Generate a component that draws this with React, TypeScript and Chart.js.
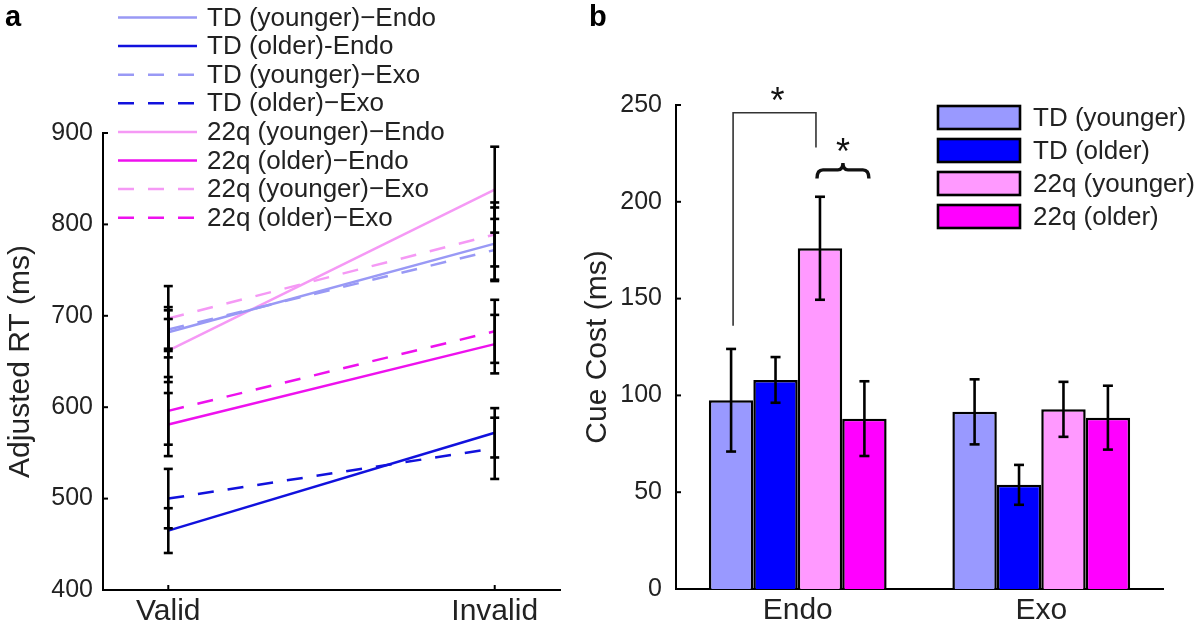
import React, { useEffect, useRef } from 'react';
import { Chart, registerables } from 'chart.js';

Chart.register(...registerables);

const FONT = '"Liberation Sans", Arial, Helvetica, sans-serif';
const TEXT = '#222222';

// ---------- Panel a : adjusted RT ----------
const CONDITIONS = ['Valid', 'Invalid'];
const CONDITION_X = [1, 2];
const RT_TICKS = [400, 500, 600, 700, 800, 900];

const LINE_LABELS = [
  'TD (younger)\u2212Endo',
  'TD (older)-Endo',
  'TD (younger)\u2212Exo',
  'TD (older)\u2212Exo',
  '22q (younger)\u2212Endo',
  '22q (older)\u2212Endo',
  '22q (younger)\u2212Exo',
  '22q (older)\u2212Exo',
];
const LINE_COLORS = ['#9999f5', '#1111dd', '#9999f5', '#1111dd', '#f599f5', '#ee11ee', '#f599f5', '#ee11ee'];
const LINE_DASHED = [false, false, true, true, false, false, true, true];

const TD_YOUNGER_ENDO = [682, 779];
const TD_OLDER_ENDO = [465, 572];
const TD_YOUNGER_EXO = [685, 772];
const TD_OLDER_EXO = [500, 555];
const Q22_YOUNGER_ENDO = [662, 838];
const Q22_OLDER_ENDO = [581, 669];
const Q22_YOUNGER_EXO = [697, 789];
const Q22_OLDER_EXO = [596, 683];

const TD_YOUNGER_ENDO_ERR = [27.5, 39.5];
const TD_OLDER_ENDO_ERR = [24.5, 27];
const TD_YOUNGER_EXO_ERR = [21, 34];
const TD_OLDER_EXO_ERR = [32.5, 33.5];
const Q22_YOUNGER_ENDO_ERR = [34.5, 47];
const Q22_OLDER_ENDO_ERR = [34.5, 32];
const Q22_YOUNGER_EXO_ERR = [35.5, 35];
const Q22_OLDER_EXO_ERR = [37, 34.5];

const LINE_VALUES = [
  TD_YOUNGER_ENDO, TD_OLDER_ENDO, TD_YOUNGER_EXO, TD_OLDER_EXO,
  Q22_YOUNGER_ENDO, Q22_OLDER_ENDO, Q22_YOUNGER_EXO, Q22_OLDER_EXO,
];
const LINE_ERRORS = [
  TD_YOUNGER_ENDO_ERR, TD_OLDER_ENDO_ERR, TD_YOUNGER_EXO_ERR, TD_OLDER_EXO_ERR,
  Q22_YOUNGER_ENDO_ERR, Q22_OLDER_ENDO_ERR, Q22_YOUNGER_EXO_ERR, Q22_OLDER_EXO_ERR,
];

// ---------- Panel b : cue cost ----------
const CUE_TYPES = ['Endo', 'Exo'];
const GROUP_LABELS = ['TD (younger)', 'TD (older)', '22q (younger)', '22q (older)'];
const GROUP_COLORS = ['#9999ff', '#0000ff', '#ff99ff', '#ff00ff'];
const COST_TICKS = [0, 50, 100, 150, 200, 250];

const TD_YOUNGER_COST = [97.5, 91.5];
const TD_OLDER_COST = [108, 53.8];
const Q22_YOUNGER_COST = [176, 92.8];
const Q22_OLDER_COST = [88, 88.5];

const TD_YOUNGER_COST_ERR = [26.5, 16.8];
const TD_OLDER_COST_ERR = [11.8, 10.3];
const Q22_YOUNGER_COST_ERR = [26.6, 14.2];
const Q22_OLDER_COST_ERR = [19.3, 16.5];

const COST_VALUES = [TD_YOUNGER_COST, TD_OLDER_COST, Q22_YOUNGER_COST, Q22_OLDER_COST];
const COST_ERRORS = [TD_YOUNGER_COST_ERR, TD_OLDER_COST_ERR, Q22_YOUNGER_COST_ERR, Q22_OLDER_COST_ERR];

// significance annotation levels (in ms)
const BRACKET_LEVELS = { leftStart: 136, top: 246, rightEnd: 228 };
const BRACE_LEVELS = { tips: 212, bar: 216.5, peak: 220 };

function drawLine(ctx: CanvasRenderingContext2D, x1: number, y1: number, x2: number, y2: number) {
  ctx.beginPath();
  ctx.moveTo(x1, y1);
  ctx.lineTo(x2, y2);
  ctx.stroke();
}

const leftPlugin = {
  id: 'leftDecor',
  afterDatasetsDraw(chart: any) {
    const { ctx } = chart;
    const xs = chart.scales.x;
    const ys = chart.scales.y;
    ctx.save();
    ctx.strokeStyle = '#000';
    ctx.lineWidth = 2.6;
    LINE_VALUES.forEach((vals, i) => {
      vals.forEach((v, j) => {
        const e = LINE_ERRORS[i][j];
        const x = xs.getPixelForValue(CONDITION_X[j]);
        const yt = ys.getPixelForValue(v + e);
        const yb = ys.getPixelForValue(v - e);
        drawLine(ctx, x, yt, x, yb);
        drawLine(ctx, x - 4.5, yt, x + 4.5, yt);
        drawLine(ctx, x - 4.5, yb, x + 4.5, yb);
      });
    });
    ctx.restore();
  },
  afterDraw(chart: any) {
    const { ctx, chartArea } = chart;
    const xs = chart.scales.x;
    const ys = chart.scales.y;
    ctx.save();
    ctx.strokeStyle = '#000';
    ctx.lineWidth = 2;
    RT_TICKS.forEach((t) => {
      const y = ys.getPixelForValue(t);
      drawLine(ctx, chartArea.left, y, chartArea.left + 5, y);
    });
    CONDITION_X.forEach((t) => {
      const x = xs.getPixelForValue(t);
      drawLine(ctx, x, chartArea.bottom, x, chartArea.bottom - 5);
    });
    // legend
    ctx.font = `26px ${FONT}`;
    ctx.textBaseline = 'middle';
    ctx.textAlign = 'left';
    LINE_LABELS.forEach((lab, i) => {
      const y = 17.5 + i * 28.6;
      ctx.strokeStyle = LINE_COLORS[i];
      ctx.lineWidth = 2.5;
      ctx.setLineDash(LINE_DASHED[i] ? [16, 14] : []);
      drawLine(ctx, 118, y, 197, y);
      ctx.setLineDash([]);
      ctx.fillStyle = TEXT;
      ctx.fillText(lab, 207, y + 1);
    });
    // panel label
    ctx.font = `bold 29px ${FONT}`;
    ctx.textBaseline = 'alphabetic';
    ctx.fillStyle = '#000';
    ctx.fillText('a', 5, 26);
    ctx.restore();
  },
};

const rightPlugin = {
  id: 'rightDecor',
  afterDatasetsDraw(chart: any) {
    const { ctx } = chart;
    const ys = chart.scales.y;
    ctx.save();
    ctx.strokeStyle = '#000';
    ctx.lineWidth = 2.6;
    COST_VALUES.forEach((vals, i) => {
      const meta = chart.getDatasetMeta(i);
      vals.forEach((v, j) => {
        const e = COST_ERRORS[i][j];
        const x = meta.data[j].x;
        const yt = ys.getPixelForValue(v + e);
        const yb = ys.getPixelForValue(v - e);
        drawLine(ctx, x, yt, x, yb);
        drawLine(ctx, x - 5, yt, x + 5, yt);
        drawLine(ctx, x - 5, yb, x + 5, yb);
      });
    });
    ctx.restore();
  },
  afterDraw(chart: any) {
    const { ctx, chartArea } = chart;
    const ys = chart.scales.y;
    ctx.save();
    ctx.strokeStyle = '#000';
    ctx.lineWidth = 2;
    COST_TICKS.forEach((t) => {
      const y = ys.getPixelForValue(t);
      drawLine(ctx, chartArea.left, y, chartArea.left + 5, y);
    });

    // significance bracket between TD (younger) and 22q (younger), Endo
    const b0 = chart.getDatasetMeta(0).data[0].x;
    const b2 = chart.getDatasetMeta(2).data[0].x;
    const b3 = chart.getDatasetMeta(3).data[0].x;
    ctx.strokeStyle = '#333';
    ctx.lineWidth = 1.6;
    ctx.beginPath();
    ctx.moveTo(b0 + 2, ys.getPixelForValue(BRACKET_LEVELS.leftStart));
    ctx.lineTo(b0 + 2, ys.getPixelForValue(BRACKET_LEVELS.top));
    ctx.lineTo(b2 - 4, ys.getPixelForValue(BRACKET_LEVELS.top));
    ctx.lineTo(b2 - 4, ys.getPixelForValue(BRACKET_LEVELS.rightEnd));
    ctx.stroke();

    // curly brace over 22q (younger) & 22q (older)
    const xl = b2 - 3;
    const xr = b3 + 4.5;
    const xm = (xl + xr) / 2;
    const yTip = ys.getPixelForValue(BRACE_LEVELS.tips);
    const yBar = ys.getPixelForValue(BRACE_LEVELS.bar);
    const yPeak = ys.getPixelForValue(BRACE_LEVELS.peak);
    ctx.strokeStyle = '#111';
    ctx.lineWidth = 3.4;
    ctx.beginPath();
    ctx.moveTo(xl, yTip);
    ctx.quadraticCurveTo(xl, yBar, xl + 6, yBar);
    ctx.lineTo(xm - 5, yBar);
    ctx.quadraticCurveTo(xm, yBar, xm, yPeak);
    ctx.quadraticCurveTo(xm, yBar, xm + 5, yBar);
    ctx.lineTo(xr - 6, yBar);
    ctx.quadraticCurveTo(xr, yBar, xr, yTip);
    ctx.stroke();

    ctx.fillStyle = '#111';
    ctx.font = `36px ${FONT}`;
    ctx.textAlign = 'center';
    ctx.textBaseline = 'middle';
    ctx.fillText('*', (b0 + b2) / 2 + 2, ys.getPixelForValue(BRACKET_LEVELS.top) - 10);
    ctx.fillText('*', xm, yPeak - 9);

    // legend
    ctx.textAlign = 'left';
    ctx.font = `26px ${FONT}`;
    GROUP_LABELS.forEach((lab, i) => {
      const yc = 117.5 + i * 33;
      ctx.fillStyle = GROUP_COLORS[i];
      ctx.fillRect(368, yc - 11.5, 82, 23);
      ctx.strokeStyle = '#000';
      ctx.lineWidth = 2.6;
      ctx.strokeRect(368, yc - 11.5, 82, 23);
      ctx.fillStyle = TEXT;
      ctx.fillText(lab, 463, yc + 1);
    });

    ctx.font = `bold 29px ${FONT}`;
    ctx.textBaseline = 'alphabetic';
    ctx.fillStyle = '#000';
    ctx.fillText('b', 19, 26);
    ctx.restore();
  },
};

export default function App() {
  const leftRef = useRef<HTMLCanvasElement>(null);
  const rightRef = useRef<HTMLCanvasElement>(null);

  useEffect(() => {
    const axisBorder = { display: true, color: '#000', width: 2 };
    const noGrid = { display: false, drawTicks: false };

    const left = new Chart(leftRef.current as HTMLCanvasElement, {
      type: 'line',
      data: {
        datasets: LINE_VALUES.map((vals, i) => ({
          label: LINE_LABELS[i],
          data: vals.map((v, j) => ({ x: CONDITION_X[j], y: v })),
          borderColor: LINE_COLORS[i],
          borderWidth: 2.5,
          borderDash: LINE_DASHED[i] ? [16, 14] : [],
          pointRadius: 0,
          fill: false,
        })),
      },
      options: {
        responsive: false,
        animation: false,
        layout: { padding: { left: 0, top: 133, right: 10, bottom: 0 } },
        plugins: { legend: { display: false }, tooltip: { enabled: false } },
        scales: {
          x: {
            type: 'linear',
            min: 0.8,
            max: 2.2,
            afterBuildTicks: (s: any) => {
              s.ticks = CONDITION_X.map((v) => ({ value: v }));
            },
            afterFit: (s: any) => {
              s.height = 45;
            },
            ticks: {
              callback: (v: any) => CONDITIONS[CONDITION_X.indexOf(Number(v))] ?? '',
              font: { family: FONT, size: 30 },
              color: TEXT,
              padding: 4,
              autoSkip: false,
              maxRotation: 0,
            },
            grid: noGrid,
            border: axisBorder,
          },
          y: {
            min: 400,
            max: 900,
            afterFit: (s: any) => {
              s.width = 103;
            },
            ticks: { stepSize: 100, font: { family: FONT, size: 25 }, color: TEXT, padding: 10 },
            grid: noGrid,
            border: axisBorder,
            title: {
              display: true,
              text: 'Adjusted RT (ms)',
              font: { family: FONT, size: 30 },
              color: TEXT,
              padding: { top: 3, bottom: 0 },
            },
          },
        },
      } as any,
      plugins: [leftPlugin],
    });

    const right = new Chart(rightRef.current as HTMLCanvasElement, {
      type: 'bar',
      data: {
        labels: CUE_TYPES,
        datasets: COST_VALUES.map((vals, i) => ({
          label: GROUP_LABELS[i],
          data: vals,
          backgroundColor: GROUP_COLORS[i],
          borderColor: '#000',
          borderWidth: 2.5,
          categoryPercentage: 0.73,
          barPercentage: 1.0,
        })),
      },
      options: {
        responsive: false,
        animation: false,
        layout: { padding: { left: 0, top: 105, right: 37, bottom: 0 } },
        plugins: { legend: { display: false }, tooltip: { enabled: false } },
        scales: {
          x: {
            afterFit: (s: any) => {
              s.height = 46;
            },
            ticks: { font: { family: FONT, size: 30 }, color: TEXT, padding: 4, maxRotation: 0 },
            grid: noGrid,
            border: axisBorder,
          },
          y: {
            min: 0,
            max: 250,
            afterFit: (s: any) => {
              s.width = 106;
            },
            ticks: { stepSize: 50, font: { family: FONT, size: 25 }, color: TEXT, padding: 14 },
            grid: noGrid,
            border: axisBorder,
            title: {
              display: true,
              text: 'Cue Cost (ms)',
              font: { family: FONT, size: 30 },
              color: TEXT,
              padding: { top: 10, bottom: 0 },
            },
          },
        },
      } as any,
      plugins: [rightPlugin],
    });

    return () => {
      left.destroy();
      right.destroy();
    };
  }, []);

  return (
    <div style={{ position: 'fixed', left: 0, top: 0, width: 1200, height: 635, background: '#fff' }}>
      <canvas ref={leftRef} width={570} height={635} style={{ position: 'absolute', left: 0, top: 0 }} />
      <canvas ref={rightRef} width={630} height={635} style={{ position: 'absolute', left: 570, top: 0 }} />
    </div>
  );
}
